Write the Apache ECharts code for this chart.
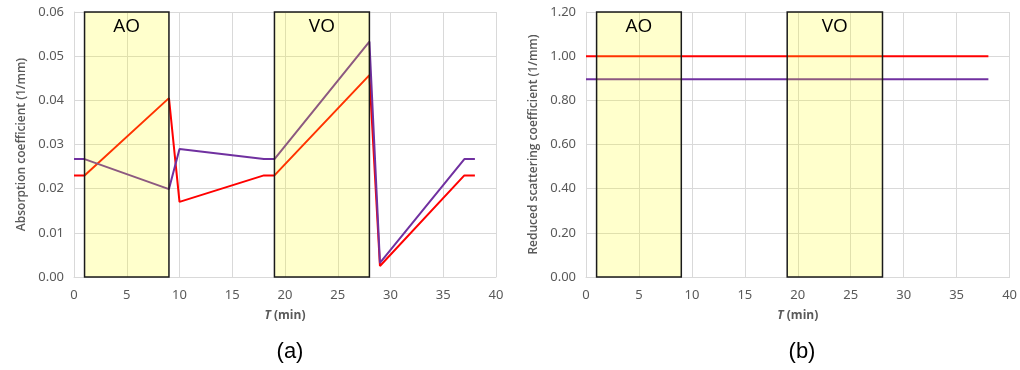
<!DOCTYPE html>
<html>
<head>
<meta charset="utf-8">
<script src="https://cdn.jsdelivr.net/npm/echarts@6/dist/echarts.min.js"></script>
<style>
  html, body { margin: 0; padding: 0; background: #fff; }
  #chart { width: 1020px; height: 370px; }
</style>
</head>
<body>
<div id="chart"></div>
<script>
// absorption (a)
const timeA = [0, 1, 9, 10, 18, 19, 28, 29, 37, 38]
const redAbs = [0.023, 0.023, 0.0405, 0.017, 0.023, 0.023, 0.0457, 0.0025, 0.023, 0.023]
const purpleAbs = [0.0267, 0.0267, 0.0199, 0.029, 0.0267, 0.0267, 0.0533, 0.0032, 0.0267, 0.0267]

// reduced scattering (b)
const timeB = [0, 38]
const redScat = [1.0, 1.0]
const purpleScat = [0.895, 0.895]

// occlusion windows
const boxStart = [1, 19]
const boxEnd = [9, 28]
const boxLabels = ['AO', 'VO']

const RED = '#ff0000'
const PURPLE = '#7030a0'
const GRID_COLOR = '#d9d9d9'
const LABEL_COLOR = '#595959'

const pairs = (xs, ys) => xs.map((x, i) => [x, ys[i]])
const boxData = boxStart.map((s, i) => [s, boxEnd[i]])

function xAxisFor(gridIndex) {
  return {
    gridIndex,
    type: 'value',
    min: 0, max: 40, interval: 5,
    name: '{i|T} (min)',
    nameLocation: 'middle',
    nameGap: 33,
    nameTextStyle: {
      color: LABEL_COLOR, fontSize: 12, fontWeight: 'bold', fontFamily: 'Open Sans',
      rich: { i: { fontStyle: 'italic', fontWeight: 'bold', fontSize: 12, color: LABEL_COLOR, fontFamily: 'Open Sans' } },
    },
    axisLine: { lineStyle: { color: GRID_COLOR } },
    axisTick: { show: false },
    axisLabel: { color: LABEL_COLOR, fontSize: 13, fontFamily: 'Noto Sans', margin: 12 },
    splitLine: { lineStyle: { color: GRID_COLOR } },
  }
}

function yAxisFor(gridIndex, max, interval, name) {
  return {
    gridIndex,
    type: 'value',
    min: 0, max, interval,
    name,
    nameLocation: 'middle',
    nameGap: 46,
    nameTextStyle: { color: LABEL_COLOR, fontSize: 12, fontWeight: 600, fontFamily: 'Open Sans' },
    axisLine: { show: true, lineStyle: { color: GRID_COLOR } },
    axisTick: { show: false },
    axisLabel: { color: LABEL_COLOR, fontSize: 13, fontFamily: 'Noto Sans', margin: 10, formatter: v => v.toFixed(2) },
    splitLine: { lineStyle: { color: GRID_COLOR } },
  }
}

function boxSeries(axisIndex, yMax) {
  return {
    type: 'custom',
    xAxisIndex: axisIndex,
    yAxisIndex: axisIndex,
    z: 10,
    silent: true,
    data: boxData,
    renderItem(params, api) {
      const p0 = api.coord([api.value(0), yMax])
      const p1 = api.coord([api.value(1), 0])
      return {
        type: 'group',
        children: [
          {
            type: 'rect',
            shape: { x: p0[0], y: p0[1], width: p1[0] - p0[0], height: p1[1] - p0[1] },
            style: { fill: 'rgba(255,255,0,0.2)', stroke: '#1a1a1a', lineWidth: 1.5 },
          },
          {
            type: 'text',
            style: {
              text: boxLabels[params.dataIndex],
              x: (p0[0] + p1[0]) / 2, y: p0[1] + 5,
              align: 'center', verticalAlign: 'top',
              font: '19px "Open Sans"', fill: '#000',
            },
          },
        ],
      }
    },
  }
}

function lineSeries(axisIndex, data, color) {
  return {
    type: 'line',
    xAxisIndex: axisIndex,
    yAxisIndex: axisIndex,
    data,
    symbol: 'none',
    z: 3,
    lineStyle: { color, width: 2 },
  }
}

const chart = echarts.init(document.getElementById('chart'), null, { renderer: 'canvas' })
chart.setOption({
  animation: false,
  title: [
    { text: '(a)', left: 285, top: 336, textAlign: 'center', textStyle: { fontSize: 22, fontWeight: 'normal', color: '#000', fontFamily: 'Liberation Sans' } },
    { text: '(b)', left: 797, top: 336, textAlign: 'center', textStyle: { fontSize: 22, fontWeight: 'normal', color: '#000', fontFamily: 'Liberation Sans' } },
  ],
  grid: [
    { left: 74, right: 524, top: 12, bottom: 93 },
    { left: 586, right: 9, top: 12, bottom: 93 },
  ],
  xAxis: [xAxisFor(0), xAxisFor(1)],
  yAxis: [
    yAxisFor(0, 0.06, 0.01, 'Absorption coefficient (1/mm)'),
    yAxisFor(1, 1.2, 0.2, 'Reduced scattering coefficient (1/mm)'),
  ],
  series: [
    lineSeries(0, pairs(timeA, redAbs), RED),
    lineSeries(0, pairs(timeA, purpleAbs), PURPLE),
    boxSeries(0, 0.06),
    lineSeries(1, pairs(timeB, redScat), RED),
    lineSeries(1, pairs(timeB, purpleScat), PURPLE),
    boxSeries(1, 1.2),
  ],
})
</script>
</body>
</html>
